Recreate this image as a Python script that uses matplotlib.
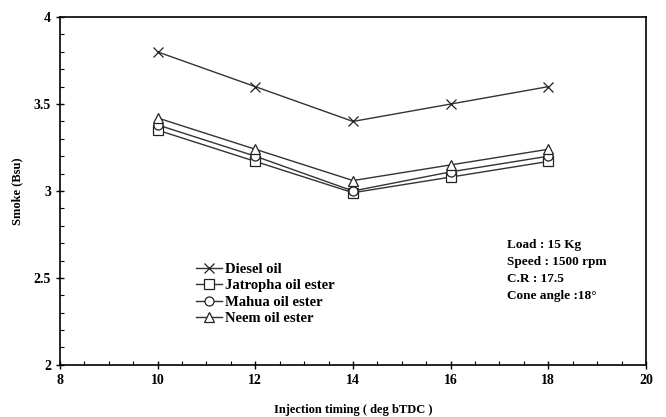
import matplotlib
matplotlib.use('Agg')
import matplotlib.pyplot as plt
from matplotlib.ticker import MultipleLocator

# Injection timing (deg bTDC) vs smoke (Bsu)
timing   = [10, 12, 14, 16, 18]
diesel   = [3.80, 3.60, 3.40, 3.50, 3.60]
jatropha = [3.35, 3.17, 2.99, 3.08, 3.17]
mahua    = [3.38, 3.20, 3.00, 3.11, 3.20]
neem     = [3.42, 3.24, 3.06, 3.15, 3.24]

series = [
    ('Diesel oil', diesel, 'x'),
    ('Jatropha oil ester', jatropha, 's'),
    ('Mahua oil ester', mahua, 'o'),
    ('Neem oil ester', neem, '^'),
]

plt.rcParams['font.family'] = ['Liberation Serif', 'DejaVu Serif']
plt.rcParams['font.weight'] = 'bold'

fig = plt.figure(figsize=(6.66, 4.17), dpi=100)
ax = fig.add_axes([0.09, 0.125, 0.88, 0.834])

for label, vals, mk in series:
    ax.plot(timing, vals, color='#333333', lw=1.0, marker=mk, ms=6.5,
            mfc='white' if mk != 'x' else 'none', mec='#222222', mew=0.9,
            label=label)

ax.set_xlim(8, 20)
ax.set_ylim(2, 4)
ax.xaxis.set_major_locator(MultipleLocator(2))
ax.xaxis.set_minor_locator(MultipleLocator(0.5))
ax.yaxis.set_major_locator(MultipleLocator(0.5))
ax.yaxis.set_minor_locator(MultipleLocator(0.1))
ax.yaxis.set_major_formatter(plt.FuncFormatter(lambda v, p: f'{v:g}'))
ax.tick_params(which='major', direction='inout', length=6, width=1, labelsize=10)
ax.tick_params(which='minor', direction='in', length=3, width=0.8)
for s in ax.spines.values():
    s.set_linewidth(1.2)

ax.set_xlabel('Injection timing ( deg bTDC )', fontsize=9, fontweight='bold')
ax.set_ylabel('Smoke (Bsu)', fontsize=9, fontweight='bold')
ax.xaxis.set_label_coords(0.5, -0.13)
ax.xaxis.label.set_va('center')
ax.yaxis.set_label_coords(-0.073, 0.5)
ax.yaxis.label.set_va('center')

ax.legend(loc='upper left', bbox_to_anchor=(0.22, 0.315), frameon=False,
          fontsize=10.5, handlelength=1.8, handletextpad=0.2, labelspacing=0.22,
          borderpad=0)

ax.text(0.762, 0.362,
        'Load : 15 Kg\nSpeed : 1500 rpm\nC.R : 17.5\nCone angle :18°',
        transform=ax.transAxes, fontsize=9.5, fontweight='bold',
        va='top', ha='left', linespacing=1.55)

fig.savefig('out.png', dpi=100)
